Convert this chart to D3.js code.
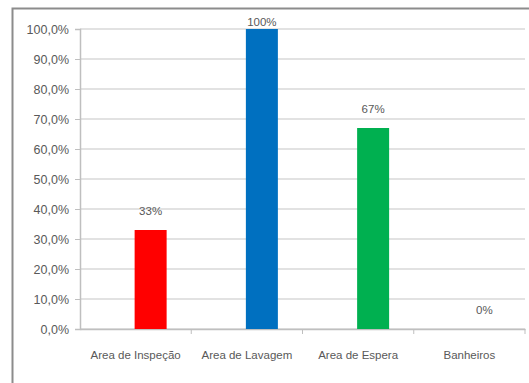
<!DOCTYPE html>
<html>
<head>
<meta charset="utf-8">
<script src="https://cdn.jsdelivr.net/npm/d3@7"></script>
<style>
  body { margin: 0; background: #fff; }
  text { font-family: "Liberation Sans Narrow", "Liberation Sans", Arial, sans-serif; fill: #595959; }
</style>
</head>
<body>
<div id="chart"></div>
<script>
var categories = ["Area de Inspeção", "Area de Lavagem", "Area de Espera", "Banheiros"];
var values = [0.33, 1.00, 0.67, 0.00];
var barColors = ["#ff0000", "#0070c0", "#00b050", "#7f7f7f"];
var labels = ["33%", "100%", "67%", "0%"];
var yTicks = [0, 0.1, 0.2, 0.3, 0.4, 0.5, 0.6, 0.7, 0.8, 0.9, 1.0];

var width = 529, height = 383;
var margin = {top: 29, left: 80, right: 4, bottom: 54};

var svg = d3.select("#chart").append("svg")
  .attr("width", width).attr("height", height);

// outer frame (cut off on right/bottom like the screenshot)
svg.append("rect")
  .attr("x", 12.5).attr("y", 8.5)
  .attr("width", width + 20).attr("height", height + 20)
  .attr("fill", "#fff").attr("stroke", "#8c8c8c").attr("stroke-width", 2);

var g = svg.append("g").attr("transform", "translate(" + margin.left + "," + margin.top + ")");
var w = width - margin.left - margin.right, h = height - margin.top - margin.bottom;

var x = d3.scaleBand().domain(categories).range([0, w]);
var y = d3.scaleLinear().domain([0, 1]).range([h, 0]);

// gridlines
g.selectAll(".grid").data(yTicks).enter().append("line")
  .attr("x1", 0).attr("x2", w)
  .attr("y1", function(d){ return y(d); }).attr("y2", function(d){ return y(d); })
  .attr("stroke", "#d9d9d9").attr("stroke-width", 1.5);

var fmt = function(d){ return d3.format(".1f")(d * 100).replace(".", ",") + "%"; };

var yAxis = g.append("g").call(d3.axisLeft(y).tickValues(yTicks).tickFormat(fmt).tickSize(5).tickPadding(6));
yAxis.select(".domain").attr("stroke", "#bfbfbf").attr("stroke-width", 1.5);
yAxis.selectAll(".tick line").attr("stroke", "#bfbfbf");
yAxis.selectAll("text").style("font-size", "12.5px").attr("fill", "#595959");

var xAxis = g.append("g").attr("transform", "translate(0," + h + ")")
  .call(d3.axisBottom(x).tickSize(0).tickPadding(22));
xAxis.select(".domain").attr("stroke", "#bfbfbf").attr("stroke-width", 1.5);
xAxis.selectAll("text").style("font-size", "11.5px").attr("fill", "#595959");
// category separator ticks
g.selectAll(".sep").data(categories).enter().append("line")
  .attr("x1", function(d){ return x(d) + x.bandwidth(); })
  .attr("x2", function(d){ return x(d) + x.bandwidth(); })
  .attr("y1", h).attr("y2", h + 5)
  .attr("stroke", "#bfbfbf");

var barW = 32;
var bars = categories.map(function(c, i){ return {cat: c, v: values[i], color: barColors[i], label: labels[i]}; });

g.selectAll(".bar").data(bars).enter().append("rect")
  .attr("x", function(d){ return x(d.cat) + x.bandwidth() / 2 - 1; })
  .attr("width", barW)
  .attr("y", function(d){ return y(d.v); })
  .attr("height", function(d){ return h - y(d.v); })
  .attr("fill", function(d){ return d.color; });

g.selectAll(".lbl").data(bars).enter().append("text")
  .attr("x", function(d){ return x(d.cat) + x.bandwidth() / 2 - 1 + barW / 2; })
  .attr("y", function(d){ return Math.max(y(d.v) - 15, -3); })
  .attr("text-anchor", "middle")
  .style("font-size", "11.5px")
  .text(function(d){ return d.label; });
</script>
</body>
</html>
